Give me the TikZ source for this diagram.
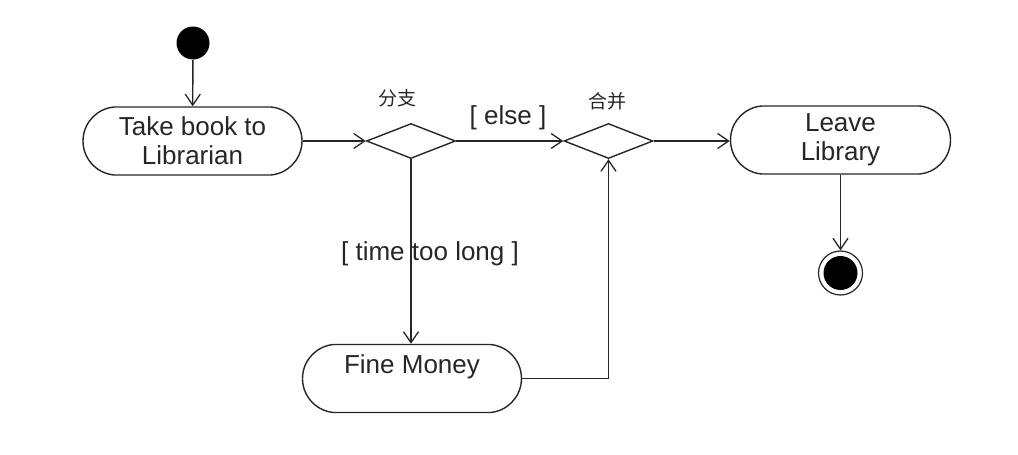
\documentclass[tikz,border=0pt]{standalone}
\usepackage{fontspec}
\setmainfont{Liberation Sans}
\newfontfamily\cjk{Noto Sans CJK SC}
\usetikzlibrary{shapes.geometric,shapes.misc,arrows.meta}
\begin{document}
\begin{tikzpicture}[x=1pt,y=-1pt,
  line width=1.4pt,
  flow/.style={draw=black!85, -{Straight Barb[length=11pt,width=15pt,line width=1.3pt]}},
  activity/.style={draw=black!85, rounded rectangle, rounded rectangle arc length=170,
    minimum height=68pt, inner sep=0pt, align=center, text=black!85,
    font=\fontsize{26}{29}\selectfont},
  decision/.style={draw=black!85, diamond, aspect=2.54, minimum width=89pt,
    minimum height=35pt, inner sep=0pt},
  guard/.style={text=black!85, inner sep=0pt, font=\fontsize{26}{29}\selectfont},
  cjklabel/.style={text=black!85, inner sep=0pt, font=\cjk\fontsize{19}{22}\selectfont}
]
\useasboundingbox (0,0) rectangle (1018,455);
\node[circle, fill=black, minimum size=33pt, inner sep=0pt] (start) at (193,43) {};
\node[activity, minimum width=219pt] (take) at (192.5,141) {Take book to\\Librarian};
\node[decision] (d1) at (411,141) {};
\node[decision] (d2) at (608.5,141) {};
\node[activity, minimum width=220pt] (leave) at (840.5,140) {Leave\\Library};
\node[activity, minimum width=219pt] (fine) at (412,378.5) {Fine Money\\{}};
\node[circle, draw=black!85, line width=1.2pt, minimum size=44pt, inner sep=0pt] (endo) at (840.5,273) {};
\node[circle, fill=black, minimum size=34pt, inner sep=0pt] (endi) at (840.5,273) {};
\node[cjklabel] (l1) at (397,98) {分支};
\node[cjklabel] (l2) at (607,101) {合并};
\node[guard] (ge) at (508,118) {[ else ]};
\node[guard] (gt) at (430,254) {[ time too long ]};
\draw[flow] (start) -- (take);
\draw[flow] (take.east |- d1.west) -- (d1.west);
\draw[flow] (d1.east) -- (d2.west);
\draw[flow] (d2.east) -- (leave.west |- d2.east);
\draw[flow] (d1.south) -- (fine.north -| d1.south);
\draw[flow] (fine.east) -| (d2.south);
\draw[flow] (leave.south) -- (endo.north);
\end{tikzpicture}
\end{document}
